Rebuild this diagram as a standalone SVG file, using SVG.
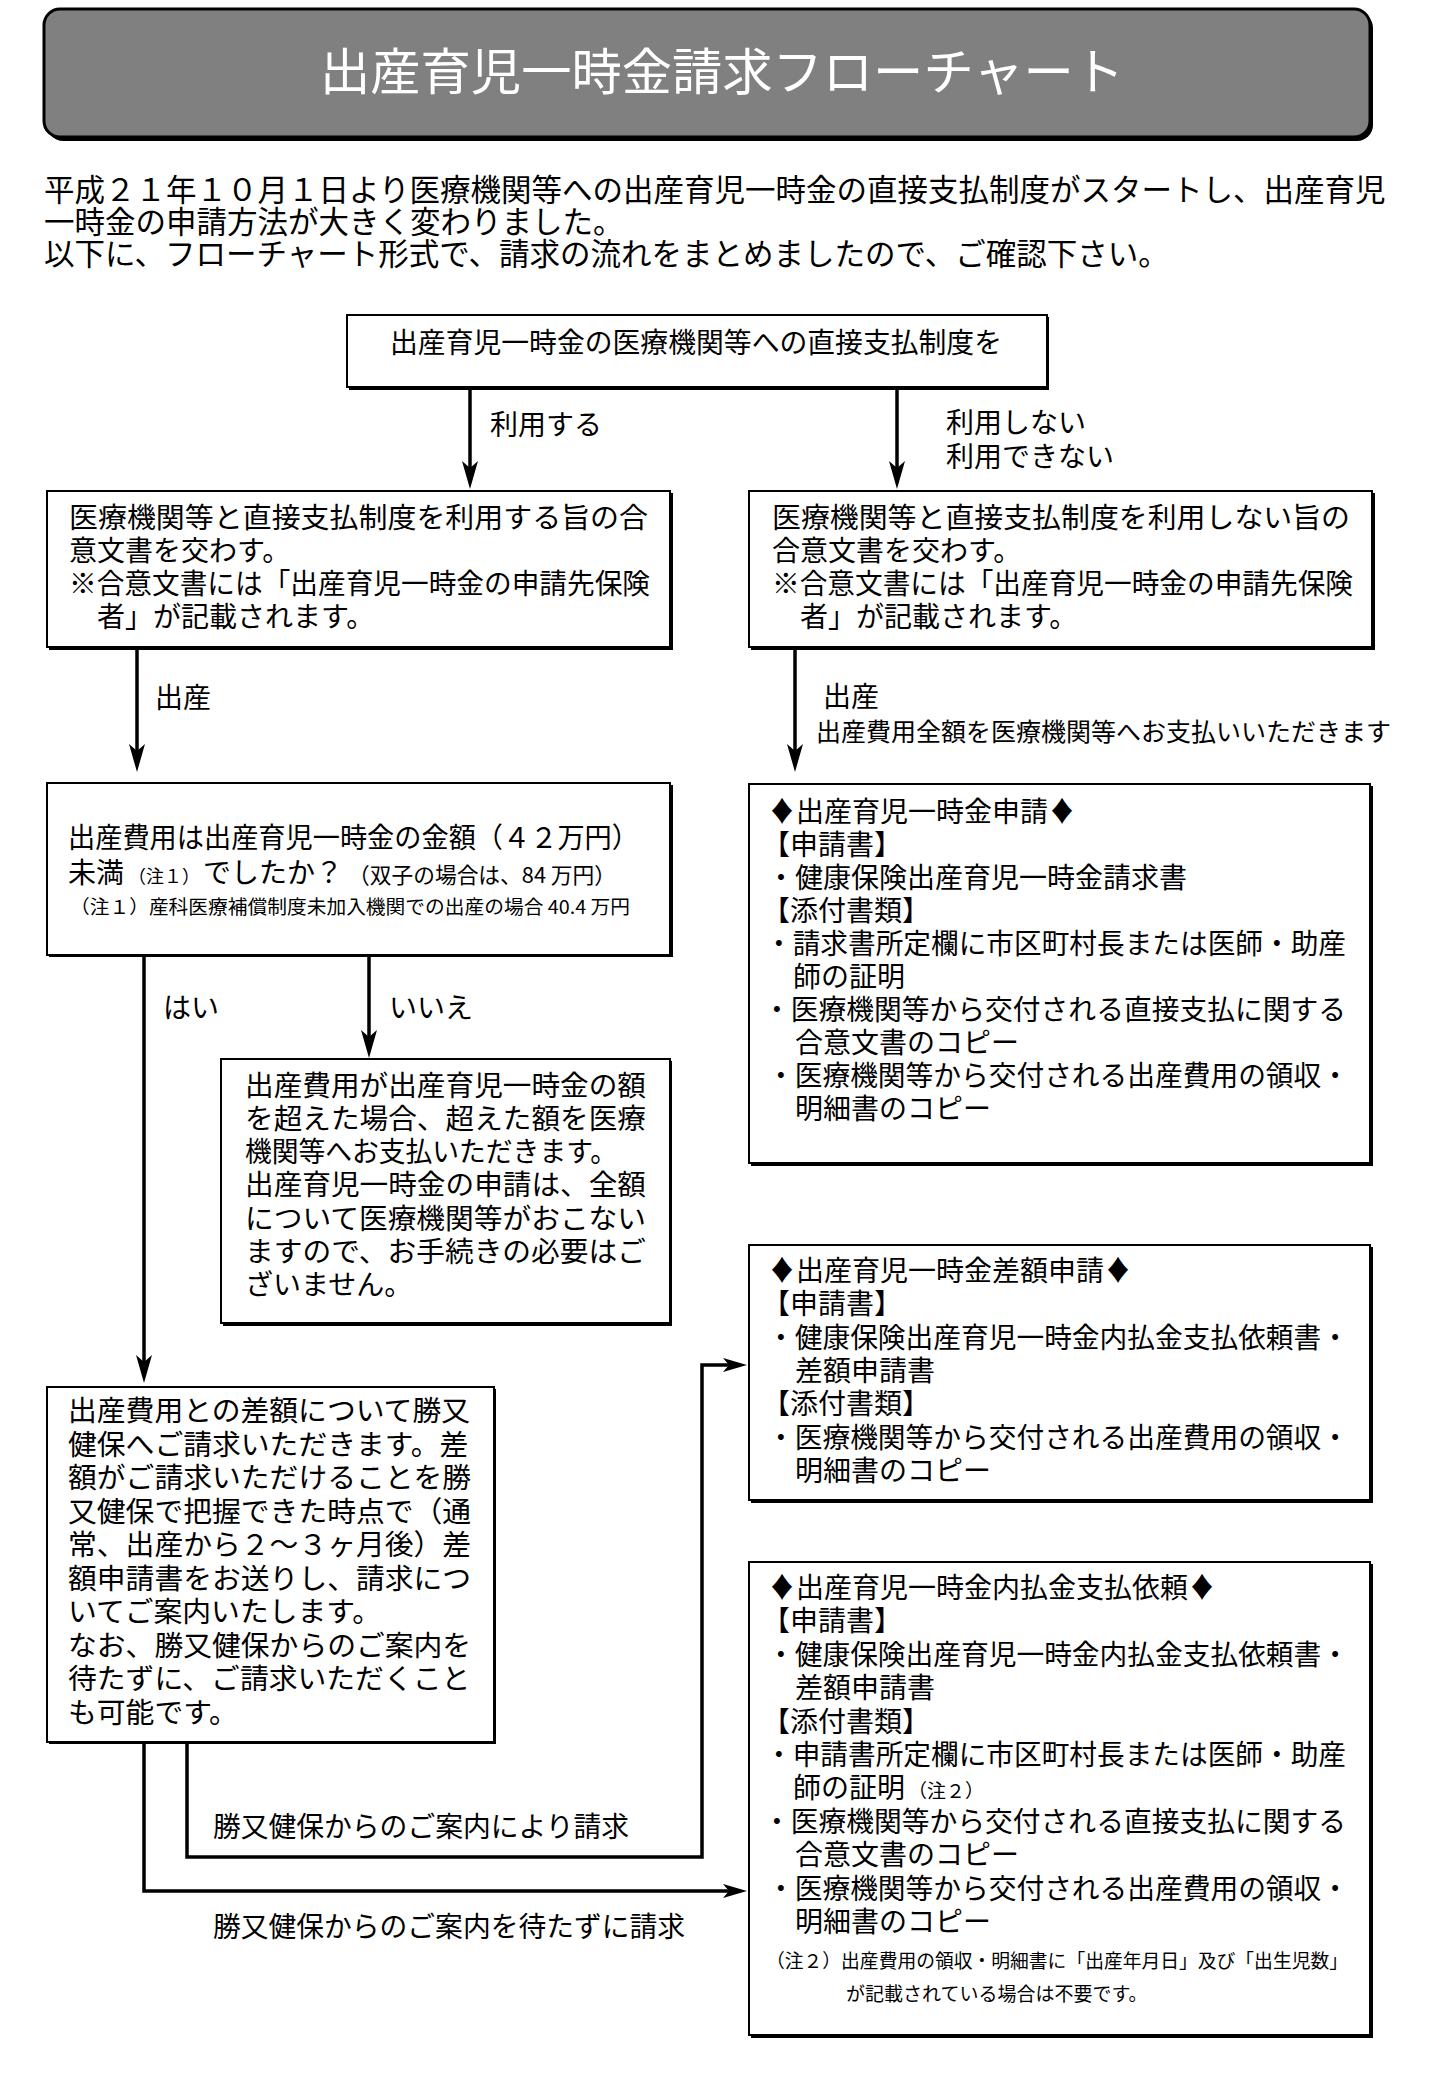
<svg xmlns="http://www.w3.org/2000/svg" width="1433" height="2084" viewBox="0 0 1433 2084">
<style>
text{font-family:"Noto Sans CJK JP","Noto Sans CJK SC",sans-serif;fill:#000}
.t{font-size:28px}
.s{font-size:19px}
.intro{font-size:30.5px}
.box{fill:#fff;stroke:#000;stroke-width:2}
.sh{fill:#000}
.c{fill:none;stroke:#000;stroke-width:3.5}
</style>
<defs>
<marker id="ah" viewBox="0 0 28 16" refX="18" refY="8" markerWidth="28" markerHeight="16" markerUnits="userSpaceOnUse" orient="auto">
<path d="M0,0 L28,8 L0,16 L7,8 Z" fill="#000"/>
</marker>
<marker id="ahs" viewBox="0 0 24 14" refX="14" refY="7" markerWidth="24" markerHeight="14" markerUnits="userSpaceOnUse" orient="auto">
<path d="M0,0 L24,7 L0,14 L6,7 Z" fill="#000"/>
</marker>
</defs>
<rect width="1433" height="2084" fill="#fff"/>

<g id="title">
<rect x="47" y="12" width="1326" height="129" rx="16" fill="#000"/>
<rect x="44" y="9" width="1326" height="128" rx="16" fill="#808080" stroke="#000" stroke-width="3"/>
<text x="722" y="90" text-anchor="middle" style="font-size:50px;fill:#fff" textLength="804" lengthAdjust="spacingAndGlyphs">出産育児一時金請求フローチャート</text>
</g>

<g id="intro">
<text class="intro"><tspan x="44" y="201">平成２１年１０月１日より医療機関等への出産育児一時金の直接支払制度がスタートし、出産育児</tspan><tspan x="44" y="233">一時金の申請方法が大きく変わりました。</tspan><tspan x="44" y="265">以下に、フローチャート形式で、請求の流れをまとめましたので、ご確認下さい。</tspan></text>
</g>

<g id="connectors">
<line class="c" x1="470" y1="389" x2="470" y2="479" marker-end="url(#ah)"/>
<line class="c" x1="897" y1="389" x2="897" y2="479" marker-end="url(#ah)"/>
<line class="c" x1="137" y1="649" x2="137" y2="762" marker-end="url(#ah)"/>
<line class="c" x1="795" y1="649" x2="795" y2="762" marker-end="url(#ah)"/>
<line class="c" x1="144" y1="956" x2="144" y2="1373" marker-end="url(#ah)"/>
<line class="c" x1="369" y1="956" x2="369" y2="1048" marker-end="url(#ah)"/>
<polyline class="c" points="187,1742 187,1857 702,1857 702,1365 737,1365" marker-end="url(#ahs)"/>
<polyline class="c" points="144,1742 144,1891 737,1891" marker-end="url(#ahs)"/>
<text class="t" x="490" y="435">利用する</text>
<text class="t"><tspan x="946" y="433">利用しない</tspan><tspan x="946" y="467">利用できない</tspan></text>
<text class="t" x="155" y="708">出産</text>
<text><tspan class="t" x="823" y="707">出産</tspan><tspan x="816" y="741" style="font-size:25px">出産費用全額を医療機関等へお支払いいただきます</tspan></text>
<text class="t" x="163" y="1018">はい</text>
<text class="t" x="389" y="1018">いいえ</text>
<text class="t" x="213" y="1837" textLength="416" lengthAdjust="spacingAndGlyphs">勝又健保からのご案内により請求</text>
<text class="t" x="213" y="1937" textLength="472" lengthAdjust="spacingAndGlyphs">勝又健保からのご案内を待たずに請求</text>
</g>

<g id="n-top">
<rect class="sh" x="349" y="317" width="700" height="73"/>
<rect class="box" x="347" y="315" width="700" height="72"/>
<text class="t" x="390" y="353" textLength="612" lengthAdjust="spacingAndGlyphs">出産育児一時金の医療機関等への直接支払制度を</text>
</g>

<g id="n-use">
<rect class="sh" x="49" y="493" width="624" height="157"/>
<rect class="box" x="47" y="491" width="623" height="156"/>
<text class="t"><tspan x="69" y="528" textLength="579" lengthAdjust="spacingAndGlyphs">医療機関等と直接支払制度を利用する旨の合</tspan><tspan x="69" y="561">意文書を交わす。</tspan><tspan x="69" y="594" textLength="581" lengthAdjust="spacingAndGlyphs">※合意文書には「出産育児一時金の申請先保険</tspan><tspan x="97" y="627">者」が記載されます。</tspan></text>
</g>

<g id="n-nouse">
<rect class="sh" x="751" y="493" width="624" height="157"/>
<rect class="box" x="749" y="491" width="623" height="156"/>
<text class="t"><tspan x="772" y="528" textLength="578" lengthAdjust="spacingAndGlyphs">医療機関等と直接支払制度を利用しない旨の</tspan><tspan x="772" y="561">合意文書を交わす。</tspan><tspan x="772" y="594" textLength="581" lengthAdjust="spacingAndGlyphs">※合意文書には「出産育児一時金の申請先保険</tspan><tspan x="800" y="627">者」が記載されます。</tspan></text>
</g>

<g id="n-question">
<rect class="sh" x="49" y="785" width="624" height="172"/>
<rect class="box" x="47" y="783" width="623" height="172"/>
<text><tspan class="t" x="68" y="848" textLength="571" lengthAdjust="spacingAndGlyphs">出産費用は出産育児一時金の金額（４２万円）</tspan><tspan class="t" x="68" y="883">未満</tspan><tspan x="128" y="883" style="font-size:18px">（注１）</tspan><tspan class="t" x="203" y="883">でしたか？</tspan><tspan x="348" y="883" style="font-size:22px" textLength="268" lengthAdjust="spacingAndGlyphs">（双子の場合は、84 万円）</tspan><tspan class="s" x="70" y="914" textLength="560" lengthAdjust="spacingAndGlyphs">（注１）産科医療補償制度未加入機関での出産の場合 40.4 万円</tspan></text>
</g>

<g id="n-no">
<rect class="sh" x="223" y="1061" width="449" height="265"/>
<rect class="box" x="221" y="1059" width="449" height="264"/>
<text class="t"><tspan x="245" y="1096" textLength="401" lengthAdjust="spacingAndGlyphs">出産費用が出産育児一時金の額</tspan><tspan x="245" y="1129" textLength="401" lengthAdjust="spacingAndGlyphs">を超えた場合、超えた額を医療</tspan><tspan x="245" y="1162" textLength="372" lengthAdjust="spacingAndGlyphs">機関等へお支払いただきます。</tspan><tspan x="245" y="1195" textLength="401" lengthAdjust="spacingAndGlyphs">出産育児一時金の申請は、全額</tspan><tspan x="245" y="1229" textLength="401" lengthAdjust="spacingAndGlyphs">について医療機関等がおこない</tspan><tspan x="245" y="1262" textLength="401" lengthAdjust="spacingAndGlyphs">ますので、お手続きの必要はご</tspan><tspan x="245" y="1295">ざいません。</tspan></text>
</g>

<g id="n-diff">
<rect class="sh" x="49" y="1389" width="447" height="355"/>
<rect class="box" x="47" y="1387" width="447" height="355"/>
<text style="font-size:28.8px"><tspan x="68" y="1421">出産費用との差額について勝又</tspan><tspan x="68" y="1454.5">健保へご請求いただきます。差</tspan><tspan x="68" y="1488">額がご請求いただけることを勝</tspan><tspan x="68" y="1521.5">又健保で把握できた時点で（通</tspan><tspan x="68" y="1555">常、出産から２～３ヶ月後）差</tspan><tspan x="68" y="1588.5">額申請書をお送りし、請求につ</tspan><tspan x="68" y="1622">いてご案内いたします。</tspan><tspan x="68" y="1655.5">なお、勝又健保からのご案内を</tspan><tspan x="68" y="1689">待たずに、ご請求いただくこと</tspan><tspan x="68" y="1722.5">も可能です。</tspan></text>
</g>

<g id="n-apply">
<rect class="sh" x="751" y="786" width="622" height="380"/>
<rect class="box" x="749" y="784" width="621" height="379"/>
<text class="t"><tspan x="768" y="822">♦出産育児一時金申請♦</tspan><tspan x="762" y="855">【申請書】</tspan><tspan x="767" y="888">・健康保険出産育児一時金請求書</tspan><tspan x="762" y="921">【添付書類】</tspan><tspan x="765" y="954" textLength="581" lengthAdjust="spacingAndGlyphs">・請求書所定欄に市区町村長または医師・助産</tspan><tspan x="793" y="987">師の証明</tspan><tspan x="763" y="1020" textLength="583" lengthAdjust="spacingAndGlyphs">・医療機関等から交付される直接支払に関する</tspan><tspan x="795" y="1053">合意文書のコピー</tspan><tspan x="767" y="1086" textLength="582" lengthAdjust="spacingAndGlyphs">・医療機関等から交付される出産費用の領収・</tspan><tspan x="795" y="1119">明細書のコピー</tspan></text>
</g>

<g id="n-diffapply">
<rect class="sh" x="751" y="1247" width="622" height="256"/>
<rect class="box" x="749" y="1245" width="621" height="255"/>
<text class="t"><tspan x="768" y="1281">♦出産育児一時金差額申請♦</tspan><tspan x="762" y="1314">【申請書】</tspan><tspan x="767" y="1348" textLength="582" lengthAdjust="spacingAndGlyphs">・健康保険出産育児一時金内払金支払依頼書・</tspan><tspan x="795" y="1381">差額申請書</tspan><tspan x="762" y="1414">【添付書類】</tspan><tspan x="767" y="1448" textLength="582" lengthAdjust="spacingAndGlyphs">・医療機関等から交付される出産費用の領収・</tspan><tspan x="795" y="1481">明細書のコピー</tspan></text>
</g>

<g id="n-advance">
<rect class="sh" x="751" y="1564" width="622" height="474"/>
<rect class="box" x="749" y="1562" width="621" height="473"/>
<text class="t"><tspan x="768" y="1598">♦出産育児一時金内払金支払依頼♦</tspan><tspan x="762" y="1631">【申請書】</tspan><tspan x="767" y="1665" textLength="582" lengthAdjust="spacingAndGlyphs">・健康保険出産育児一時金内払金支払依頼書・</tspan><tspan x="795" y="1698">差額申請書</tspan><tspan x="762" y="1732">【添付書類】</tspan><tspan x="765" y="1765" textLength="581" lengthAdjust="spacingAndGlyphs">・申請書所定欄に市区町村長または医師・助産</tspan><tspan x="793" y="1798">師の証明</tspan><tspan class="s" x="908" y="1798">（注２）</tspan><tspan x="763" y="1832" textLength="583" lengthAdjust="spacingAndGlyphs">・医療機関等から交付される直接支払に関する</tspan><tspan x="795" y="1865">合意文書のコピー</tspan><tspan x="767" y="1899" textLength="582" lengthAdjust="spacingAndGlyphs">・医療機関等から交付される出産費用の領収・</tspan><tspan x="795" y="1932">明細書のコピー</tspan><tspan class="s" x="766" y="1968" textLength="582" lengthAdjust="spacingAndGlyphs">（注２）出産費用の領収・明細書に「出産年月日」及び「出生児数」</tspan><tspan class="s" x="846" y="2001">が記載されている場合は不要です。</tspan></text>
</g>
</svg>
